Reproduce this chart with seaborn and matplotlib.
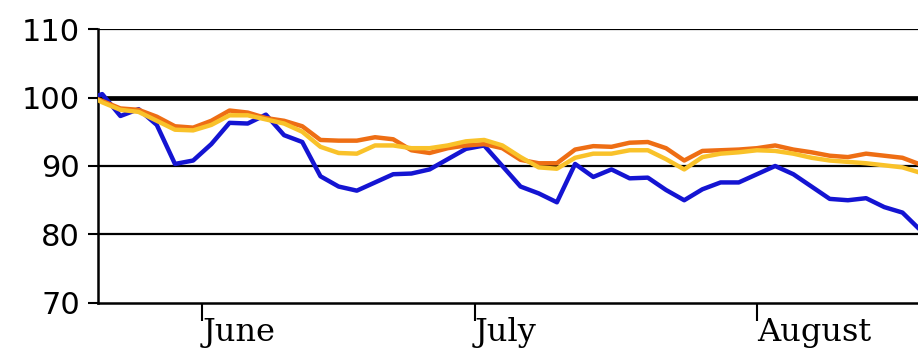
import pandas as pd
import matplotlib
matplotlib.use("Agg")
import matplotlib.pyplot as plt
import seaborn as sns

# values, every second day (index = 100 at start)
dates = ["2002-05-20", "2002-05-21", "2002-05-23", "2002-05-25", "2002-05-27", "2002-05-29",
         "2002-05-31", "2002-06-02", "2002-06-04", "2002-06-06", "2002-06-08", "2002-06-10",
         "2002-06-12", "2002-06-14", "2002-06-16", "2002-06-18", "2002-06-20", "2002-06-22",
         "2002-06-24", "2002-06-26", "2002-06-28", "2002-06-30", "2002-07-02", "2002-07-04",
         "2002-07-06", "2002-07-08", "2002-07-10", "2002-07-12", "2002-07-14", "2002-07-16",
         "2002-07-18", "2002-07-20", "2002-07-22", "2002-07-24", "2002-07-26", "2002-07-28",
         "2002-07-30", "2002-08-01", "2002-08-03", "2002-08-05", "2002-08-07", "2002-08-09",
         "2002-08-11", "2002-08-13", "2002-08-15", "2002-08-17", "2002-08-19"]

blue = [100, 100.5, 97.3, 98.3, 96, 90.3, 90.8, 93.2, 96.3, 96.2, 97.5, 94.5,
        93.5, 88.5, 87, 86.4, 87.6, 88.8, 88.9, 89.5, 91, 92.5, 93, 90,
        87, 86, 84.7, 90.3, 88.4, 89.5, 88.2, 88.3, 86.5, 85, 86.6, 87.6,
        87.6, 88.8, 90, 88.8, 87, 85.2, 85, 85.3, 84, 83.2, 80.6]

orange = [100, 99.5, 98.4, 98.2, 97.2, 95.8, 95.6, 96.6, 98.1, 97.8, 97, 96.6,
          95.8, 93.8, 93.7, 93.7, 94.2, 93.9, 92.3, 91.9, 92.6, 93, 93.2, 92.6,
          90.9, 90.4, 90.4, 92.4, 92.9, 92.8, 93.4, 93.5, 92.6, 90.8, 92.2, 92.3,
          92.4, 92.6, 93, 92.4, 92, 91.5, 91.3, 91.8, 91.5, 91.2, 90.2]

yellow = [100, 99.3, 98.2, 97.9, 96.6, 95.3, 95.2, 96, 97.4, 97.4, 96.8, 96.2,
          95, 92.8, 91.9, 91.8, 93, 93, 92.6, 92.6, 93, 93.6, 93.8, 93,
          91.3, 89.8, 89.6, 91.2, 91.8, 91.8, 92.3, 92.3, 91, 89.5, 91.3, 91.8,
          92, 92.3, 92.2, 91.8, 91.2, 90.8, 90.6, 90.4, 90.1, 89.8, 89]

month_ticks = ["2002-06-01", "2002-07-01", "2002-08-01"]
month_labels = ["June", "July", "August"]
y_ticks = [70, 80, 90, 100, 110]

df = pd.DataFrame({"date": pd.to_datetime(dates), "blue": blue,
                   "orange": orange, "yellow": yellow})
long = df.melt(id_vars="date", var_name="series", value_name="value")

sns.set_style("white")

fig = plt.figure(figsize=(9.18, 3.55), dpi=100)
ax = fig.add_axes([0.1068, 0.1465, 0.8932, 0.7718])

# horizontal reference lines
for y in [80, 90, 110]:
    ax.axhline(y, color="black", lw=1.6, zorder=1)
ax.axhline(100, color="black", lw=3.4, zorder=1)

sns.lineplot(data=long, x="date", y="value", hue="series",
             palette={"blue": "#1414d2", "orange": "#ee6e14", "yellow": "#f9c22a"},
             linewidth=3.2, legend=False, ax=ax, zorder=3)

ax.set_xlim(pd.Timestamp("2002-05-20 13:00"), pd.Timestamp("2002-08-18 17:00"))
ax.set_ylim(70, 110)
ax.set_yticks(y_ticks)
ax.set_yticklabels([str(v) for v in y_ticks], fontsize=22, family="DejaVu Sans",
                   color="black")
ax.set_xticks(pd.to_datetime(month_ticks))
ax.set_xticklabels(month_labels, fontsize=23, family="DejaVu Serif", ha="left",
                   color="black")
ax.set_xlabel("")
ax.set_ylabel("")

ax.tick_params(axis="y", which="major", left=True, direction="out", length=7,
               width=1.5, color="black", pad=6)
ax.tick_params(axis="x", which="major", bottom=True, direction="out", length=13,
               width=1.5, color="black", pad=-3)

for side in ["top", "right"]:
    ax.spines[side].set_visible(False)
for side in ["left", "bottom"]:
    ax.spines[side].set_color("black")
    ax.spines[side].set_linewidth(1.8)

fig.savefig("out.png", dpi=100)
